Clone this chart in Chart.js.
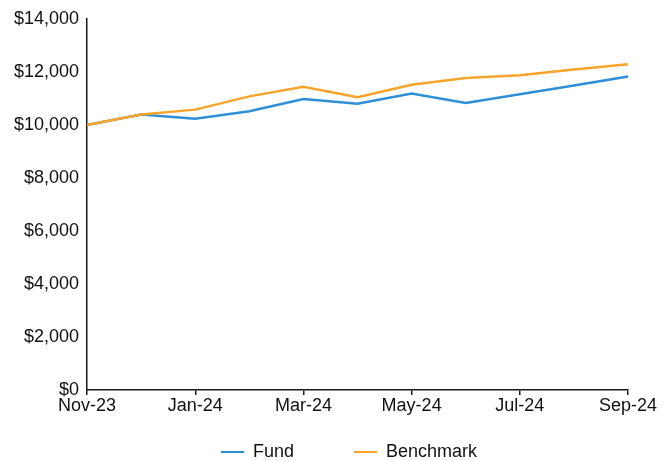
<!DOCTYPE html>
<html>
<head>
<meta charset="utf-8">
<script src="https://cdn.jsdelivr.net/npm/chart.js@4/dist/chart.umd.min.js"></script>
<style>
  html, body { margin: 0; padding: 0; background: #fff; }
  #wrap { width: 669px; height: 461px; position: relative; }
</style>
</head>
<body>
<div id="wrap"><canvas id="c"></canvas></div>
<script>
const months = ['Nov-23','Dec-23','Jan-24','Feb-24','Mar-24','Apr-24','May-24','Jun-24','Jul-24','Aug-24','Sep-24'];
const fundValues = [10000, 10400, 10240, 10520, 10980, 10800, 11190, 10830, 11160, 11490, 11830];
const benchmarkValues = [10000, 10400, 10580, 11080, 11440, 11050, 11520, 11770, 11880, 12090, 12290];
const yTicks = [0, 2000, 4000, 6000, 8000, 10000, 12000, 14000];

const FUND_COLOR = '#2F8FD6';
const BENCH_COLOR = '#F7A42C';
const AXIS_COLOR = '#1a1a1a';
const FONT = { family: '"Liberation Sans", Arial, sans-serif', size: 18 };

// place the legend row under the plot, centred on the plot's horizontal span
const legendPlace = {
  id: 'legendPlace',
  afterLayout(chart) {
    const lg = chart.legend;
    if (!lg) return;
    const p = lg.options.labels.padding;
    lg.left = chart.chartArea.left - 17;
    lg.right = chart.chartArea.right;
    lg.top = chart.height - 18 - p;
    lg.bottom = chart.height;
    lg.width = lg.right - lg.left;
    lg.height = lg.bottom - lg.top;
  }
};

new Chart(document.getElementById('c'), {
  type: 'line',
  data: {
    labels: months,
    datasets: [
      { label: 'Fund', data: fundValues, borderColor: FUND_COLOR, backgroundColor: FUND_COLOR,
        borderWidth: 2.5, pointRadius: 0, tension: 0, fill: false, order: 1 },
      { label: 'Benchmark', data: benchmarkValues, borderColor: BENCH_COLOR, backgroundColor: BENCH_COLOR,
        borderWidth: 2.5, pointRadius: 0, tension: 0, fill: false, order: 0 }
    ]
  },
  options: {
    responsive: true,
    maintainAspectRatio: false,
    animation: false,
    layout: { padding: { top: 19, left: 6, right: 41, bottom: 43 } },
    plugins: {
      tooltip: { enabled: false },
      legend: {
        position: 'bottom',
        maxHeight: 1,
        labels: {
          font: FONT,
          color: '#111',
          boxWidth: 23,
          boxHeight: 2,
          padding: 60,
          sort: (a, b) => a.datasetIndex - b.datasetIndex,
          generateLabels: (chart) => {
            const items = Chart.defaults.plugins.legend.labels.generateLabels(chart);
            items.forEach(it => {
              const ds = chart.data.datasets[it.datasetIndex];
              it.fillStyle = ds.borderColor;
              it.strokeStyle = ds.borderColor;
              it.lineWidth = 0;
            });
            return items;
          }
        }
      }
    },
    scales: {
      x: {
        offset: false,
        grid: { drawOnChartArea: false, drawTicks: true, tickLength: 5, color: AXIS_COLOR, lineWidth: 1.5 },
        border: { display: true, color: AXIS_COLOR, width: 1.5 },
        ticks: { font: FONT, color: '#111', padding: 0, autoSkip: true, maxTicksLimit: 6, maxRotation: 0, minRotation: 0 },
        afterFit: (scale) => { scale.height = 27; }
      },
      y: {
        min: yTicks[0],
        max: yTicks[yTicks.length - 1],
        grid: { display: false, drawTicks: false },
        border: { display: true, color: AXIS_COLOR, width: 1.5 },
        afterBuildTicks: (scale) => { scale.ticks = yTicks.map(v => ({ value: v })); },
        ticks: {
          font: FONT, color: '#111', padding: 8,
          callback: (v) => '$' + Number(v).toLocaleString('en-US')
        }
      }
    }
  },
  plugins: [legendPlace]
});
</script>
</body>
</html>
